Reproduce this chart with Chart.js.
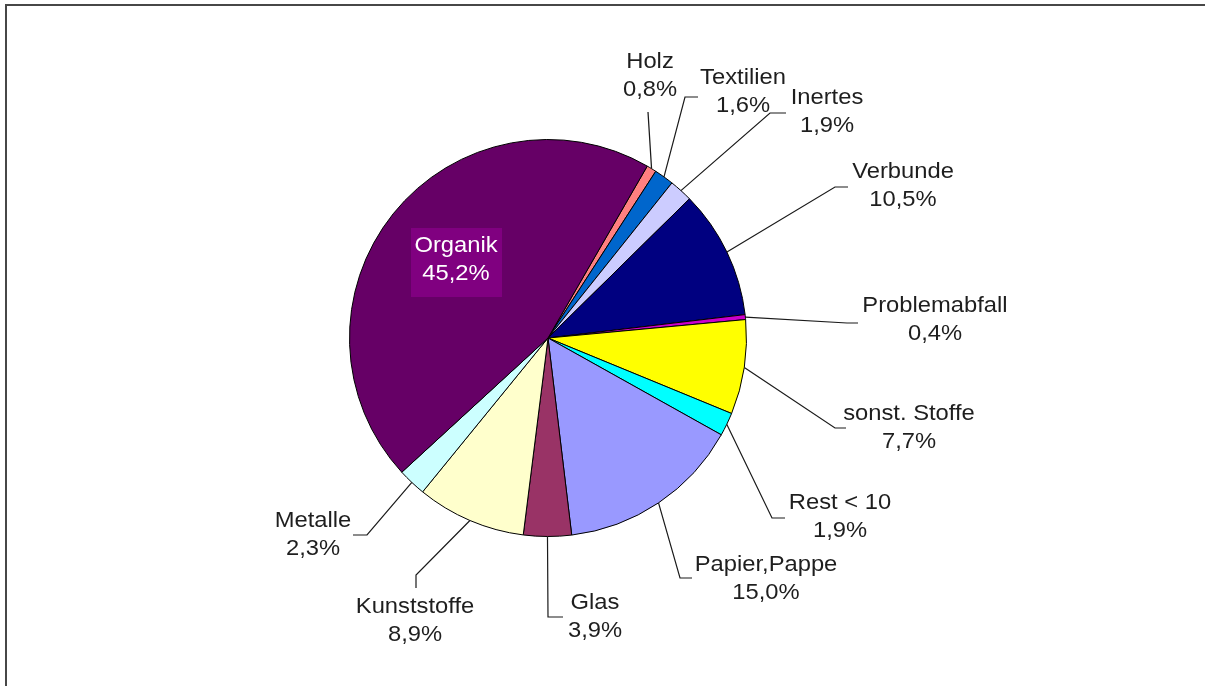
<!DOCTYPE html>
<html>
<head>
<meta charset="utf-8">
<script src="https://cdn.jsdelivr.net/npm/chart.js@4"></script>
<style>
    html, body { margin: 0; padding: 0; background: #fff; }
    body { width: 1205px; height: 686px; position: relative; overflow: hidden; }
    #frame {
        position: absolute; left: 5px; top: 4px; width: 1300px; height: 800px;
        border-left: 2px solid #474747; border-top: 2px solid #474747;
    }
    #wrap { position: absolute; left: 0; top: 0; width: 1205px; height: 686px; }
</style>
</head>
<body>
<div id="frame"></div>
<div id="wrap"><canvas id="myChart"></canvas></div>
<script>
const categories = ['Holz', 'Textilien', 'Inertes', 'Verbunde', 'Problemabfall', 'sonst. Stoffe',
    'Rest < 10', 'Papier,Pappe', 'Glas', 'Kunststoffe', 'Metalle', 'Organik'];
const shares = [0.8, 1.6, 1.9, 10.5, 0.4, 7.7, 1.9, 15.0, 3.9, 8.9, 2.3, 45.2];
const valueLabels = ['0,8%', '1,6%', '1,9%', '10,5%', '0,4%', '7,7%', '1,9%', '15,0%', '3,9%', '8,9%', '2,3%', '45,2%'];

const colors = ['#ff8080', '#0066cc', '#ccccff', '#000080', '#cc00cc', '#ffff00',
    '#00ffff', '#9999ff', '#993366', '#ffffcc', '#ccffff', '#660066'];

// label text centre, leader elbow, leader end (canvas px); null elbow = no leader
const labelPos = [
    [650, 62, 648, 112, 648, 112],
    [743, 78, 685, 97, 698, 97],
    [827, 98, 770, 113, 786, 113],
    [903, 172, 835, 187, 848, 187],
    [935, 306, 847, 323, 858, 323],
    [909, 414, 835, 428, 846, 428],
    [840, 503, 772, 518, 785, 518],
    [766, 565, 680, 578, 692, 578],
    [595, 603, 548, 617, 563, 617],
    [415, 607, 416, 575, 416, 588],
    [313, 521, 367, 535, 353, 535],
    [456, 246, null, null, null, null]
];

const stretch = 1.08;

const labelPlugin = {
    id: 'pieLabels',
    afterDatasetsDraw(chart) {
        const c = chart.ctx;
        const arcs = chart.getDatasetMeta(0).data;
        c.save();
        c.font = '22px "Liberation Sans", Arial, sans-serif';
        c.textAlign = 'center';
        c.textBaseline = 'middle';
        arcs.forEach((arc, i) => {
            const p = labelPos[i];
            if (p[2] !== null) {
                const mid = (arc.startAngle + arc.endAngle) / 2;
                const sx = arc.x + Math.cos(mid) * arc.outerRadius;
                const sy = arc.y + Math.sin(mid) * arc.outerRadius;
                c.strokeStyle = '#1a1a1a';
                c.lineWidth = 1.2;
                c.beginPath();
                c.moveTo(sx, sy);
                c.lineTo(p[2], p[3]);
                c.lineTo(p[4], p[5]);
                c.stroke();
                c.fillStyle = '#1e1e1e';
            } else {
                c.fillStyle = '#800080';
                c.fillRect(411, 228, 91, 69);
                c.fillStyle = '#fff';
            }
            c.save();
            c.translate(p[0], p[1]);
            c.scale(stretch, 1);
            c.fillText(categories[i], 0, 0);
            c.fillText(valueLabels[i], 0, 28);
            c.restore();
        });
        c.restore();
    }
};

const ctx = document.getElementById('myChart');

new Chart(ctx, {
    type: 'pie',
    data: {
        labels: categories,
        datasets: [{
            data: shares,
            backgroundColor: colors,
            borderColor: '#000',
            borderWidth: 1
        }]
    },
    options: {
        responsive: true,
        maintainAspectRatio: false,
        animation: false,
        rotation: 30,
        layout: { padding: { left: 349, right: 458, top: 139, bottom: 149 } },
        plugins: {
            legend: { display: false },
            tooltip: { enabled: false }
        }
    },
    plugins: [labelPlugin]
});
</script>
</body>
</html>
